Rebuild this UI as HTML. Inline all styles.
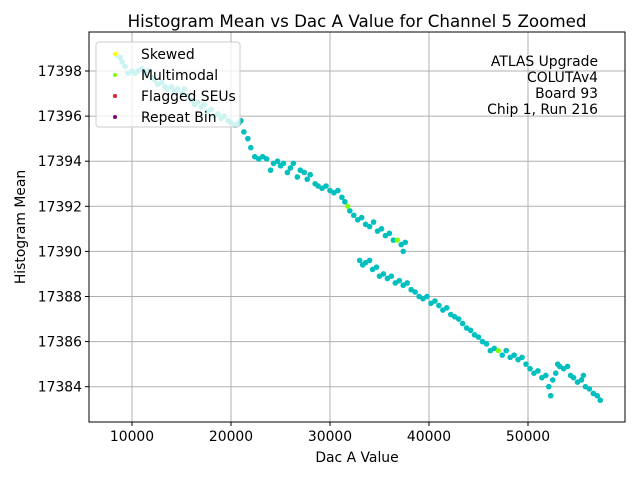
<!DOCTYPE html>
<html><head><meta charset="utf-8"><style>
body{margin:0;background:#fff;font-family:"Liberation Sans","DejaVu Sans",sans-serif}
svg text{font-family:"DejaVu Sans","Liberation Sans",sans-serif}
</style></head><body>
<svg id="chart" width="640" height="480">
<text x="357" y="27" font-size="16.7" text-anchor="middle">Histogram Mean vs Dac A Value for Channel 5 Zoomed</text>
<g id="grid"></g><g id="ticks"></g><g id="pts"></g>
<rect x="89" y="32" width="536" height="390" fill="none" stroke="#000" stroke-width="1"/>
<text x="357" y="462" font-size="13.9" text-anchor="middle">Dac A Value</text>
<text transform="translate(25,227) rotate(-90)" font-size="13.9" text-anchor="middle">Histogram Mean</text>
<g font-size="13.9" text-anchor="end">
<text x="598" y="66">ATLAS Upgrade</text><text x="598" y="82">COLUTAv4</text><text x="598" y="98">Board 93</text><text x="598" y="114">Chip 1, Run 216</text></g>
<g>
<rect x="96" y="42" width="144" height="85" rx="3" fill="#fff" fill-opacity="0.8" stroke="#ccc"/>
<circle cx="115" cy="54" r="2" fill="#ffff00"/><text x="141" y="59" font-size="13.9">Skewed</text>
<circle cx="115" cy="75" r="2" fill="#7fff00"/><text x="141" y="80" font-size="13.9">Multimodal</text>
<circle cx="115" cy="96" r="2" fill="#d62728"/><text x="141" y="101" font-size="13.9">Flagged SEUs</text>
<circle cx="115" cy="117" r="2" fill="#800080"/><text x="141" y="122" font-size="13.9">Repeat Bin</text>
</g>
</svg>
<script>
const xTicks=[10000,20000,30000,40000,50000];
const yTicks=[17384,17386,17388,17390,17392,17394,17396,17398];
const dacValues=[8500,8800,9000,9300,9600,10000,10300,10600,11000,11300,11600,12000,12300,12600,13000,13300,13600,14000,14300,14600,15000,15300,15600,16000,16300,16600,17000,17300,17600,18000,18300,18700,19000,19300,19700,20000,20400,20800,21000,21300,21700,22000,22400,22800,23200,23600,24000,24300,24700,25000,25300,25700,26000,26300,26700,27000,27400,27700,28000,28500,28800,29200,29600,30000,30400,30800,31200,31500,32000,32400,32800,33200,33600,34000,34400,34800,35200,35600,36000,36400,37200,37400,37600,33000,33300,33600,34000,34300,34700,35000,35400,35800,36200,36600,37000,37400,37800,38200,38600,39000,39400,39800,40200,40600,41000,41400,41800,42200,42600,43000,43400,43800,44200,44600,45000,45400,45800,46200,46600,47400,47800,48200,48600,49000,49400,49800,50200,50600,51000,51400,51800,52100,52300,52500,52800,53200,53600,54000,54300,54600,55000,55400,55800,56200,56600,57000,57300,53000,55600];
const meanValues=[17398.7,17398.6,17398.4,17398.2,17397.9,17398.0,17397.9,17398.0,17398.1,17397.9,17398.0,17397.7,17397.6,17397.4,17397.5,17397.3,17397.2,17397.3,17397.1,17397.2,17397.0,17397.2,17396.9,17396.7,17396.5,17396.6,17396.4,17396.5,17396.2,17396.3,17396.0,17396.1,17395.9,17396.0,17395.8,17395.7,17395.6,17395.7,17395.8,17395.3,17395.0,17394.6,17394.2,17394.1,17394.2,17394.1,17393.6,17393.9,17394.0,17393.8,17393.9,17393.5,17393.7,17393.9,17393.3,17393.6,17393.5,17393.2,17393.4,17393.0,17392.9,17392.8,17392.9,17392.7,17392.6,17392.7,17392.4,17392.2,17391.8,17391.6,17391.4,17391.5,17391.2,17391.1,17391.3,17390.9,17391.0,17390.7,17390.8,17390.5,17390.3,17390.0,17390.4,17389.6,17389.4,17389.5,17389.6,17389.2,17389.3,17388.9,17389.0,17388.8,17388.9,17388.6,17388.7,17388.5,17388.6,17388.3,17388.2,17388.0,17387.9,17388.0,17387.7,17387.8,17387.6,17387.4,17387.5,17387.2,17387.1,17387.0,17386.8,17386.6,17386.5,17386.3,17386.2,17386.0,17385.9,17385.6,17385.7,17385.4,17385.6,17385.3,17385.4,17385.2,17385.3,17385.0,17384.8,17384.6,17384.7,17384.4,17384.5,17384.0,17383.6,17384.3,17384.6,17384.9,17384.8,17384.9,17384.5,17384.4,17384.2,17384.3,17384.0,17383.9,17383.7,17383.6,17383.4,17385.0,17384.5];
const skewedDac=[8500];
const skewedMean=[17398.8];
const multiDac=[31800,36800,47000];
const multiMean=[17392.0,17390.5,17385.6];
const NS="http://www.w3.org/2000/svg";
function xs(v){return 33+(v/10000)*99;}
function ys(v){return 71+(17398-v)*22.55;}
const grid=document.getElementById('grid'),ticks=document.getElementById('ticks'),pts=document.getElementById('pts');
function mk(tag,attrs,parent){const e=document.createElementNS(NS,tag);for(const k in attrs)e.setAttribute(k,attrs[k]);parent.appendChild(e);return e;}
xTicks.forEach(t=>{const x=xs(t);
 const l=mk('line',{x1:x,x2:x,y1:32,y2:422,stroke:'#b0b0b0','stroke-width':1},grid);
 
 
 mk('line',{x1:x,x2:x,y1:422,y2:426,stroke:'#000'},ticks);
 const tx=mk('text',{x:x,y:441,'font-size':13.9,'text-anchor':'middle'},ticks);tx.textContent=t;
 
 });
yTicks.forEach(t=>{const y=ys(t);
 const l=mk('line',{x1:89,x2:625,y1:y,y2:y,stroke:'#b0b0b0','stroke-width':1},grid);
 
 
 mk('line',{x1:85,x2:89,y1:y,y2:y,stroke:'#000'},ticks);
 const tx=mk('text',{x:82,y:y+5,'font-size':13.9,'text-anchor':'end'},ticks);tx.textContent=t;
 
 });
dacValues.forEach((d,i)=>{const c=mk('circle',{cx:xs(d),cy:ys(meanValues[i]),r:2.8,fill:'#00bfbf'},pts);
 
 });
skewedDac.forEach((d,i)=>{const c=mk('circle',{cx:xs(d),cy:ys(skewedMean[i]),r:2.6,fill:'#ffff00'},pts);
 
 });
multiDac.forEach((d,i)=>{const c=mk('circle',{cx:xs(d),cy:ys(multiMean[i]),r:2.6,fill:'#7fff00'},pts);
 
 });
</script>
</body></html>
